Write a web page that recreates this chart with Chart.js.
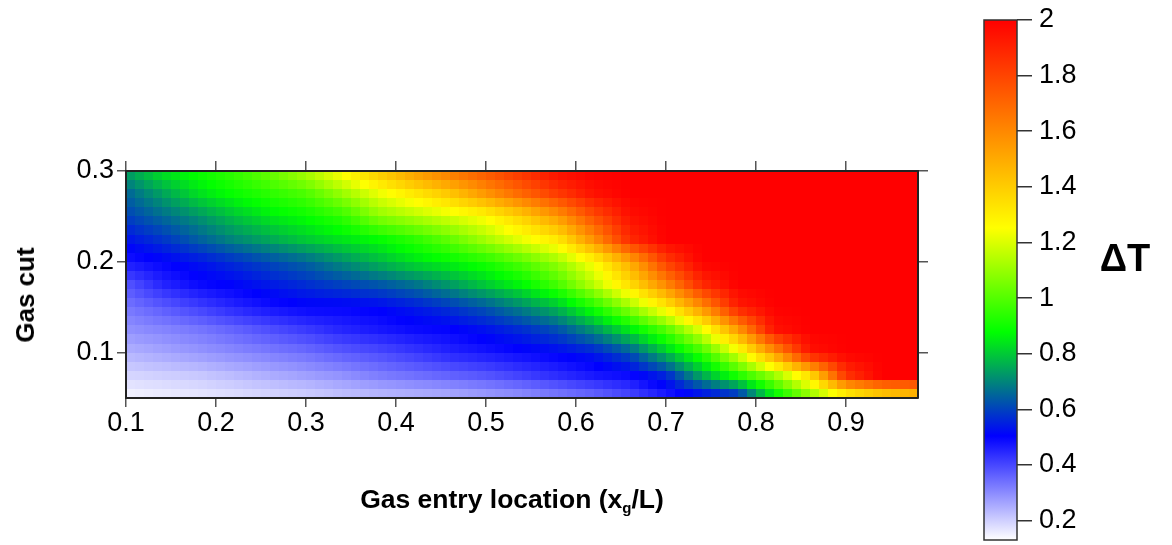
<!DOCTYPE html>
<html>
<head>
<meta charset="utf-8">
<script src="https://cdn.jsdelivr.net/npm/chart.js@4.4.0/dist/chart.umd.min.js"></script>
<style>
  html, body { margin: 0; padding: 0; background: #fff; }
  #wrap { position: relative; width: 1172px; height: 545px; overflow: hidden;
          font-family: 'Liberation Sans', Arial, sans-serif; color: #000; }
  #main { position: absolute; left: 0; top: 0; }
  #bar { position: absolute; left: 950px; top: 0; }
  .lbl { position: absolute; font-weight: bold; white-space: nowrap; line-height: 1; }
  #ytitle { left: 25px; top: 295px; font-size: 26px; transform: translate(-50%, -50%) rotate(-90deg); }
  #xtitle { left: 512px; top: 500px; font-size: 26.5px; transform: translate(-50%, -50%); }
  #xtitle sub { font-size: 15px; vertical-align: -5px; }
  #ctitle { left: 1125px; top: 258px; font-size: 38px; transform: translate(-50%, -50%); }
</style>
</head>
<body>
<div id="wrap">
  <canvas id="main" width="950" height="545"></canvas>
  <canvas id="bar" width="222" height="545"></canvas>
  <div class="lbl" id="ytitle">Gas cut</div>
  <div class="lbl" id="xtitle">Gas entry location (x<sub>g</sub>/L)</div>
  <div class="lbl" id="ctitle">ΔT</div>
</div>
<script>
// Gas entry location (x/L) of each sampled column of the map
const gasEntry = [0.10, 0.14, 0.18, 0.22, 0.26, 0.30, 0.34, 0.38, 0.42, 0.46, 0.50, 0.54,
                  0.58, 0.62, 0.66, 0.70, 0.74, 0.78, 0.82, 0.86, 0.90, 0.94, 0.98];
// Gas cut of each sampled row of the map
const gasCut = [0.050, 0.075, 0.100, 0.125, 0.150, 0.175, 0.200, 0.225, 0.250, 0.275, 0.300];

// ΔT, one array per gas cut row
const dT_050 = [0.14, 0.15, 0.16, 0.17, 0.18, 0.19, 0.21, 0.22, 0.23, 0.24, 0.26, 0.28,
                0.31, 0.34, 0.39, 0.45, 0.49, 0.52, 0.82, 1.05, 1.20, 1.30, 1.36];
const dT_075 = [0.19, 0.20, 0.21, 0.23, 0.25, 0.27, 0.29, 0.32, 0.34, 0.36, 0.38, 0.41,
                0.44, 0.47, 0.49, 0.56, 0.75, 0.92, 1.10, 1.35, 1.85, 2.00, 2.00];
const dT_100 = [0.24, 0.26, 0.28, 0.30, 0.32, 0.34, 0.37, 0.39, 0.42, 0.45, 0.47, 0.49,
                0.51, 0.54, 0.62, 0.78, 0.95, 1.20, 1.55, 1.95, 2.00, 2.00, 2.00];
const dT_125 = [0.29, 0.31, 0.33, 0.36, 0.39, 0.42, 0.45, 0.47, 0.49, 0.50, 0.53, 0.57,
                0.62, 0.72, 0.85, 1.00, 1.22, 1.55, 1.95, 2.00, 2.00, 2.00, 2.00];
const dT_150 = [0.33, 0.37, 0.41, 0.45, 0.48, 0.50, 0.50, 0.51, 0.54, 0.58, 0.63, 0.70,
                0.78, 0.92, 1.10, 1.30, 1.58, 1.92, 2.00, 2.00, 2.00, 2.00, 2.00];
const dT_175 = [0.38, 0.45, 0.49, 0.51, 0.54, 0.57, 0.60, 0.63, 0.67, 0.73, 0.80, 0.87,
                0.98, 1.15, 1.35, 1.60, 1.88, 2.00, 2.00, 2.00, 2.00, 2.00, 2.00];
const dT_200 = [0.47, 0.50, 0.53, 0.57, 0.61, 0.65, 0.71, 0.77, 0.83, 0.87, 0.92, 1.00,
                1.10, 1.26, 1.50, 1.82, 2.00, 2.00, 2.00, 2.00, 2.00, 2.00, 2.00];
const dT_225 = [0.53, 0.58, 0.64, 0.70, 0.75, 0.80, 0.84, 0.88, 0.94, 1.02, 1.12, 1.22,
                1.32, 1.58, 1.88, 2.00, 2.00, 2.00, 2.00, 2.00, 2.00, 2.00, 2.00];
const dT_250 = [0.60, 0.66, 0.72, 0.79, 0.85, 0.89, 0.95, 1.08, 1.14, 1.20, 1.27, 1.40,
                1.56, 1.78, 1.96, 2.00, 2.00, 2.00, 2.00, 2.00, 2.00, 2.00, 2.00];
const dT_275 = [0.65, 0.74, 0.83, 0.89, 0.94, 0.99, 1.10, 1.22, 1.32, 1.42, 1.56, 1.70,
                1.83, 1.95, 2.00, 2.00, 2.00, 2.00, 2.00, 2.00, 2.00, 2.00, 2.00];
const dT_300 = [0.74, 0.84, 0.90, 0.96, 1.04, 1.14, 1.27, 1.42, 1.55, 1.66, 1.76, 1.86,
                1.97, 2.00, 2.00, 2.00, 2.00, 2.00, 2.00, 2.00, 2.00, 2.00, 2.00];
const deltaT = [dT_050, dT_075, dT_100, dT_125, dT_150, dT_175, dT_200, dT_225, dT_250, dT_275, dT_300];

const xTicks = [0.1, 0.2, 0.3, 0.4, 0.5, 0.6, 0.7, 0.8, 0.9];
const yTicks = [0.1, 0.2, 0.3];
const barTicks = [0.2, 0.4, 0.6, 0.8, 1, 1.2, 1.4, 1.6, 1.8, 2];
const barMin = 0.13, barMax = 2;

// colour scale: white -> blue -> green -> yellow -> red
const cmapStops = [
    [0.13, [255, 255, 255]],
    [0.504, [0, 0, 255]],
    [0.878, [0, 255, 0]],
    [1.252, [255, 255, 0]],
    [2.0, [255, 0, 0]]
];

function colorFor(v) {
    if (v <= cmapStops[0][0]) return cmapStops[0][1];
    for (let i = 0; i < cmapStops.length - 1; i++) {
        const [v0, c0] = cmapStops[i];
        const [v1, c1] = cmapStops[i + 1];
        if (v <= v1) {
            const t = (v - v0) / (v1 - v0);
            return c0.map((c, k) => Math.round(c + (c1[k] - c) * t));
        }
    }
    return cmapStops[cmapStops.length - 1][1];
}

const FONT = "'Liberation Sans', Arial, sans-serif";

// points of the map: one per sample
const cells = [];
gasCut.forEach((gy, j) => {
    gasEntry.forEach((gx, i) => cells.push({ x: gx, y: gy, v: deltaT[j][i] }));
});

// shades the surface between the samples (value space), in small blocks like the original
const heatmapPlugin = {
    id: 'heatmap',
    beforeDatasetsDraw(chart) {
        const { ctx, chartArea: a, scales: { x, y } } = chart;
        const pts = chart.data.datasets[0].data;
        const nx = gasEntry.length, ny = gasCut.length;
        const grid = [];
        for (let j = 0; j < ny; j++) grid.push(new Array(nx).fill(0));
        pts.forEach(p => { grid[gasCut.indexOf(p.y)][gasEntry.indexOf(p.x)] = p.v; });

        const x0 = x.min, x1 = x.max, y0 = y.min, y1 = y.max;
        const bw = 88, bh = 25; // shading blocks
        const off = document.createElement('canvas');
        off.width = bw; off.height = bh;
        const octx = off.getContext('2d');
        const img = octx.createImageData(bw, bh);
        const dx = gasEntry[1] - gasEntry[0], dy = gasCut[1] - gasCut[0];
        for (let r = 0; r < bh; r++) {
            const gy = y1 - (r + 0.5) * (y1 - y0) / bh;
            let fj = Math.min(Math.max((gy - gasCut[0]) / dy, 0), ny - 1);
            const j0 = Math.min(Math.floor(fj), ny - 2), tj = fj - j0;
            for (let c = 0; c < bw; c++) {
                const gx = x0 + (c + 0.5) * (x1 - x0) / bw;
                let fi = Math.min(Math.max((gx - gasEntry[0]) / dx, 0), nx - 1);
                const i0 = Math.min(Math.floor(fi), nx - 2), ti = fi - i0;
                const v = (grid[j0][i0] * (1 - ti) + grid[j0][i0 + 1] * ti) * (1 - tj) +
                          (grid[j0 + 1][i0] * (1 - ti) + grid[j0 + 1][i0 + 1] * ti) * tj;
                const col = colorFor(v);
                const k = (r * bw + c) * 4;
                img.data[k] = col[0]; img.data[k + 1] = col[1]; img.data[k + 2] = col[2]; img.data[k + 3] = 255;
            }
        }
        octx.putImageData(img, 0, 0);

        const left = x.getPixelForValue(x0), right = x.getPixelForValue(x1);
        const top = y.getPixelForValue(y1), bottom = y.getPixelForValue(y0);
        ctx.save();
        ctx.beginPath();
        ctx.rect(a.left, a.top, a.right - a.left, a.bottom - a.top);
        ctx.clip();
        ctx.imageSmoothingEnabled = false;
        ctx.drawImage(off, left, top, right - left, bottom - top);
        ctx.restore();
    }
};

function fixedTicks(list) {
    return scale => { scale.ticks = list.map(v => ({ value: v })); };
}

const tickFont = { family: FONT, size: 27 };
const gridOpts = len => ({ drawOnChartArea: false, drawTicks: true, tickLength: len, color: '#555', lineWidth: 1.5 });
const borderOpts = { display: true, color: '#222', width: 2, z: 1 };

new Chart(document.getElementById('main'), {
    type: 'scatter',
    data: {
        datasets: [{ data: cells, pointRadius: 0, pointHoverRadius: 0 }]
    },
    plugins: [heatmapPlugin],
    options: {
        responsive: false,
        animation: false,
        events: [],
        layout: { padding: { top: 161, left: 0, right: 22, bottom: 0 } },
        plugins: { legend: { display: false }, tooltip: { enabled: false } },
        scales: {
            x: {
                type: 'linear', position: 'bottom', min: 0.1, max: 0.98,
                afterBuildTicks: fixedTicks(xTicks),
                afterFit: s => { s.height = 147; },
                grid: gridOpts(9), border: borderOpts,
                ticks: { font: tickFont, color: '#000', padding: 0, maxRotation: 0,
                         callback: v => String(v) }
            },
            x2: {
                type: 'linear', position: 'top', min: 0.1, max: 0.98,
                afterBuildTicks: fixedTicks(xTicks),
                afterFit: s => { s.height = 10; },
                grid: gridOpts(10), border: borderOpts,
                ticks: { display: false }
            },
            y: {
                type: 'linear', position: 'left', min: 0.05, max: 0.3,
                afterBuildTicks: fixedTicks(yTicks),
                afterFit: s => { s.width = 126; },
                grid: gridOpts(9), border: borderOpts,
                ticks: { font: tickFont, color: '#000', padding: 3, callback: v => String(v) }
            },
            y2: {
                type: 'linear', position: 'right', min: 0.05, max: 0.3,
                afterBuildTicks: fixedTicks(yTicks),
                afterFit: s => { s.width = 10; },
                grid: gridOpts(10), border: borderOpts,
                ticks: { display: false }
            }
        }
    }
});

// colour bar: gradient drawn from the bar scale
const colorbarPlugin = {
    id: 'colorbar',
    beforeDatasetsDraw(chart) {
        const { ctx, chartArea: a, scales: { y } } = chart;
        const y0 = y.getPixelForValue(barMin), y1 = y.getPixelForValue(barMax);
        const g = ctx.createLinearGradient(0, y0, 0, y1);
        cmapStops.forEach(([v, c]) => {
            g.addColorStop((v - barMin) / (barMax - barMin), `rgb(${c[0]},${c[1]},${c[2]})`);
        });
        ctx.save();
        ctx.fillStyle = g;
        ctx.fillRect(a.left, a.top, a.right - a.left, a.bottom - a.top);
        ctx.strokeStyle = '#333';
        ctx.lineWidth = 1.5;
        ctx.strokeRect(a.left, a.top, a.right - a.left, a.bottom - a.top);
        ctx.restore();
    }
};

new Chart(document.getElementById('bar'), {
    type: 'scatter',
    data: { datasets: [{ data: [], pointRadius: 0 }] },
    plugins: [colorbarPlugin],
    options: {
        responsive: false,
        animation: false,
        events: [],
        layout: { padding: { top: 20, left: 34, right: 0, bottom: 5 } },
        plugins: { legend: { display: false }, tooltip: { enabled: false } },
        scales: {
            x: { display: false, min: 0, max: 1 },
            y: {
                type: 'linear', position: 'right', min: barMin, max: barMax,
                afterBuildTicks: fixedTicks(barTicks),
                afterFit: s => { s.width = 155; s.paddingTop = 0; s.paddingBottom = 0; },
                grid: { drawOnChartArea: false, drawTicks: true, tickLength: 15, color: '#333', lineWidth: 1.5 },
                border: { display: false },
                ticks: { font: tickFont, color: '#000', padding: 7, callback: v => String(v) }
            }
        }
    }
});
</script>
</body>
</html>
